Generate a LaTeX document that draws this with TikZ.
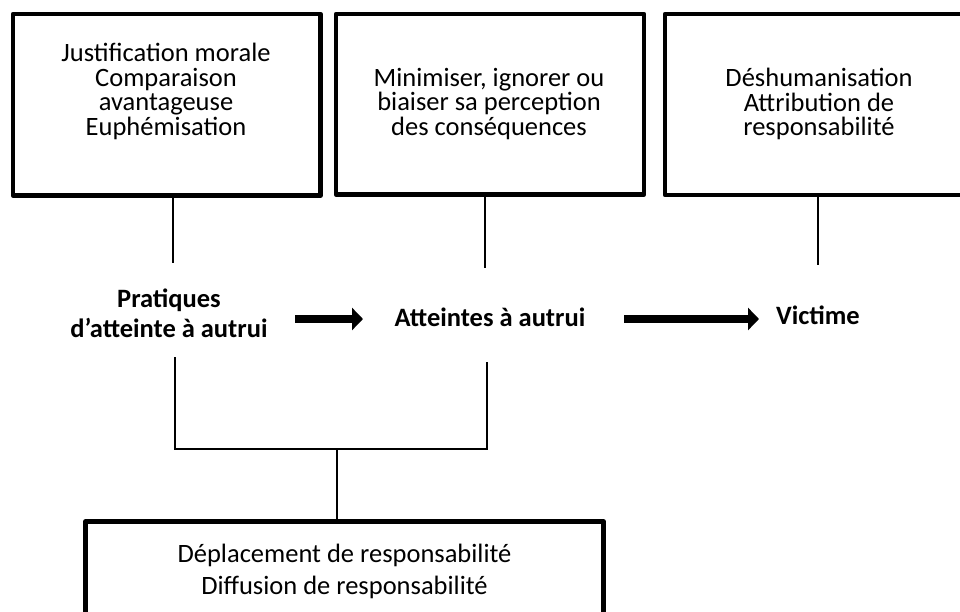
\documentclass[tikz,border=0pt]{standalone}
\usepackage{fontspec}
\setmainfont{Carlito}
\usetikzlibrary{arrows.meta}
\begin{document}
\begin{tikzpicture}[x=1pt,y=-1pt,
  box/.style={draw, line width=4.5pt, line join=round, inner sep=0pt, fill=none},
  txt/.style={align=center, inner sep=0pt, font=\fontsize{26.5}{24.5}\selectfont},
  txtb/.style={align=center, inner sep=0pt, font=\fontsize{26.5}{32}\selectfont},
  lbl/.style={align=center, inner sep=0pt, font=\fontsize{26.5}{30}\selectfont\bfseries},
  conn/.style={draw, line width=1.6pt},
  bigarrow/.style={line width=8pt, -{Triangle[length=11pt,width=22pt]}}]
\useasboundingbox (0,0) rectangle (960,612);
\clip (0,0) rectangle (960,612);
% boxes
\node[box, minimum width=307.5pt, minimum height=181.5pt] (b1) at (166.75,104.75) {};
\node[box, minimum width=308pt, minimum height=180.5pt] (b2) at (490,104.25) {};
\node[box, minimum width=306pt, minimum height=181pt] (b3) at (818,104.5) {};
\node[box, minimum width=518pt, minimum height=140pt] (b4) at (344.5,591.5) {};
% box texts
\node[txt] (t1) at (166,91.5) {Justification morale\\Comparaison\\avantageuse\\Euphémisation};
\node[txt] (t2) at (489,104) {Minimiser, ignorer ou\\biaiser sa perception\\des conséquences};
\node[txt] (t3) at (819,104) {Déshumanisation\\Attribution de\\responsabilité};
\node[txtb] (t4) at (344.5,571) {Déplacement de responsabilité\\Diffusion de responsabilité};
% middle labels
\node[lbl] (pr) at (169,313) {Pratiques\\d’atteinte à autrui};
\node[lbl] (at) at (490,317) {Atteintes à autrui};
\node[lbl] (vi) at (818,315) {Victime};
% connector ends
\coordinate (c1) at (173,263);
\coordinate (c2) at (485,268);
\coordinate (c3) at (818,265);
\coordinate (d1) at (175,357);
\coordinate (d2) at (487,362);
\coordinate (e1) at (175,449);
\coordinate (e2) at (487,449);
\coordinate (m) at (337,449);
% top connectors
\draw[conn] (b1.south -| c1) -- (c1);
\draw[conn] (b2.south -| c2) -- (c2);
\draw[conn] (b3.south -| c3) -- (c3);
% bracket
\draw[conn] (d1) -- (e1) -- (e2) -- (d2);
\draw[conn] (m) -- (b4.north -| m);
% arrows
\coordinate (a1s) at (295,319);
\coordinate (a1e) at (363,319);
\coordinate (a2s) at (624,319);
\coordinate (a2e) at (759,319);
\draw[bigarrow] (a1s) -- (a1e);
\draw[bigarrow] (a2s) -- (a2e);
\end{tikzpicture}
\end{document}
